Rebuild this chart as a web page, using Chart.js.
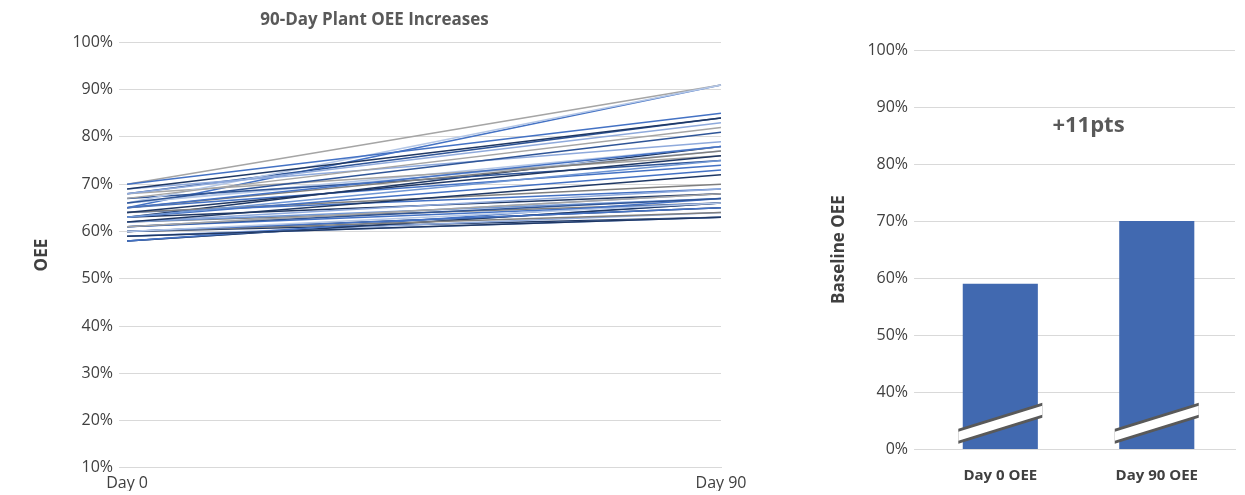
<!DOCTYPE html>
<html lang="en">
<head>
  <meta charset="UTF-8" />
  <title>90-Day Plant OEE Increases</title>
  <script src="https://cdn.jsdelivr.net/npm/chart.js"></script>
  <style>
    body { margin: 0; background: #fff; font-family: "Open Sans", sans-serif; }
    .box { position: absolute; top: 0; height: 495px; }
  </style>
</head>
<body>
  <div class="box" style="left:0; width:765px;"><canvas id="lineChart"></canvas></div>
  <div class="box" style="left:815px; width:430px;"><canvas id="barChart"></canvas></div>

  <script>
    // Left chart: each plant's OEE on day 0 and day 90
    const days = ['Day 0', 'Day 90'];
    const day0 = [70, 69, 68, 67, 66, 66, 65, 65, 64, 63, 63, 62, 62, 61, 61, 60, 60, 60, 59, 59, 58, 58,
                  69, 68, 67, 66, 65, 64, 63, 62, 61, 60, 59, 70, 68, 66, 64, 62, 60, 58, 65, 63, 61];
    const day90 = [85, 84, 83, 82, 81, 91, 78, 77, 76, 75, 73, 72, 69, 68, 67, 66, 65, 64, 63, 63, 67, 66,
                   79, 76, 75, 78, 74, 70, 68, 67, 66, 65, 64, 91, 84, 77, 69, 66, 63, 66, 91, 78, 68];
    const lineColors = ['#4472c4', '#1f3864', '#8faadc', '#a5a5a5', '#2f5597', '#b4c7e7', '#4472c4', '#7f7f7f', '#203864', '#6f96d4'];

    // Right chart: average OEE
    const barLabels = ['Day 0 OEE', 'Day 90 OEE'];
    const barValues = [59, 70];
    const barTicks = { 30: '0%', 40: '40%', 50: '50%', 60: '60%', 70: '70%', 80: '80%', 90: '90%', 100: '100%' };

    Chart.defaults.font.family = '"Open Sans", sans-serif';
    Chart.defaults.color = '#404040';

    new Chart(document.getElementById('lineChart'), {
      type: 'line',
      data: {
        labels: days,
        datasets: day0.map((v, i) => ({
          data: [v, day90[i]],
          borderColor: lineColors[i % lineColors.length],
          borderWidth: 1.5,
          pointRadius: 0
        }))
      },
      options: {
        responsive: true,
        maintainAspectRatio: false,
        animation: false,
        layout: { padding: { left: 28, right: 44, top: 10, bottom: 4 } },
        plugins: {
          legend: { display: false },
          tooltip: { enabled: false },
          title: { display: true, text: '90-Day Plant OEE Increases', font: { size: 17, weight: 'bold' }, color: '#595959', padding: { top: 0, bottom: 12 } }
        },
        scales: {
          x: {
            offset: false,
            grid: { display: false },
            border: { color: '#d9d9d9' },
            ticks: { font: { size: 16 }, color: '#404040', padding: -2 }
          },
          y: {
            min: 10, max: 100,
            ticks: { stepSize: 10, callback: v => v + '%', font: { size: 16 }, color: '#404040', padding: 6 },
            grid: { color: '#d9d9d9' },
            border: { display: false },
            title: { display: true, text: 'OEE', font: { size: 17, weight: 'bold' }, color: '#404040', padding: { bottom: 14 } }
          }
        }
      }
    });

    const breakMarks = {
      id: 'breakMarks',
      afterDatasetsDraw(chart) {
        const { ctx, scales } = chart;
        const meta = chart.getDatasetMeta(0);
        const yMid = scales.y.getPixelForValue(34.5);
        ctx.save();
        meta.data.forEach(bar => {
          const x0 = bar.x - 42, x1 = bar.x + 42;
          const rise = 13, gap = 9;
          ctx.beginPath();
          ctx.moveTo(x0, yMid + rise - gap / 2 - 3);
          ctx.lineTo(x1, yMid - rise - gap / 2 - 3);
          ctx.lineTo(x1, yMid - rise + gap / 2 + 3);
          ctx.lineTo(x0, yMid + rise + gap / 2 + 3);
          ctx.closePath();
          ctx.fillStyle = '#595959';
          ctx.fill();
          ctx.beginPath();
          ctx.moveTo(x0, yMid + rise - gap / 2);
          ctx.lineTo(x1, yMid - rise - gap / 2);
          ctx.lineTo(x1, yMid - rise + gap / 2);
          ctx.lineTo(x0, yMid + rise + gap / 2);
          ctx.closePath();
          ctx.fillStyle = '#fff';
          ctx.fill();
        });
        ctx.fillStyle = '#595959';
        ctx.font = 'bold 22px "Open Sans", sans-serif';
        ctx.textAlign = 'center';
        ctx.textBaseline = 'middle';
        ctx.fillText('+11pts', (scales.x.left + scales.x.right) / 2 + 10, scales.y.getPixelForValue(86.8));
        ctx.restore();
      }
    };

    new Chart(document.getElementById('barChart'), {
      type: 'bar',
      data: {
        labels: barLabels,
        datasets: [{ data: barValues, backgroundColor: '#4169b0', barPercentage: 0.48, categoryPercentage: 1 }]
      },
      options: {
        responsive: true,
        maintainAspectRatio: false,
        animation: false,
        layout: { padding: { left: 10, right: 10, top: 50, bottom: 0 } },
        plugins: { legend: { display: false }, tooltip: { enabled: false } },
        scales: {
          x: {
            grid: { display: false },
            border: { color: '#d9d9d9' },
            ticks: { font: { size: 15, weight: 'bold' }, color: '#404040', padding: 10 }
          },
          y: {
            min: 30, max: 100,
            ticks: { stepSize: 10, callback: v => barTicks[v] || '', font: { size: 16 }, color: '#404040', padding: 6 },
            grid: { color: '#d9d9d9' },
            border: { display: false },
            title: { display: true, text: 'Baseline OEE', font: { size: 17, weight: 'bold' }, color: '#404040', padding: { bottom: 12 } }
          }
        }
      },
      plugins: [breakMarks]
    });
  </script>
</body>
</html>
